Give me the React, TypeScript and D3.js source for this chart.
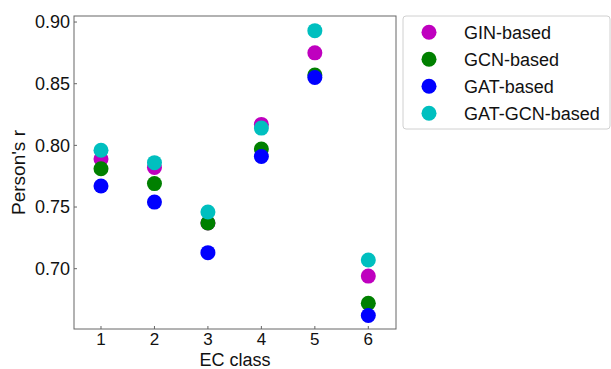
import React, { useRef, useEffect } from 'react';
import * as d3 from 'd3';

const classes = [1, 2, 3, 4, 5, 6];
const ginBased = [0.789, 0.782, 0.737, 0.817, 0.875, 0.694];
const gcnBased = [0.781, 0.769, 0.737, 0.797, 0.857, 0.672];
const gatBased = [0.767, 0.754, 0.713, 0.791, 0.855, 0.662];
const gatGcnBased = [0.796, 0.786, 0.746, 0.814, 0.893, 0.707];
const yTicks = [0.7, 0.75, 0.8, 0.85, 0.9];

const seriesNames = ['GIN-based', 'GCN-based', 'GAT-based', 'GAT-GCN-based'];
const seriesColors = ['#bf00bf', '#008000', '#0000ff', '#00bfbf'];

const App = () => {
  const chartRef = useRef<SVGSVGElement | null>(null);

  useEffect(() => {
    const svg = d3.select(chartRef.current);
    svg.selectAll('*').remove();

    const font = 'Liberation Sans, Arial, sans-serif';
    const left = 74, right = 396, top = 16, bottom = 329;

    const x = d3.scaleLinear().domain([0.495, 6.518]).range([left, right]);
    const y = d3.scaleLinear().domain([0.6511, 0.9049]).range([bottom, top]);

    const series = [ginBased, gcnBased, gatBased, gatGcnBased];

    // frame
    svg
      .append('rect')
      .attr('x', left)
      .attr('y', top)
      .attr('width', right - left)
      .attr('height', bottom - top)
      .attr('fill', 'none')
      .attr('stroke', '#666')
      .attr('stroke-width', 1);

    // y ticks
    const yg = svg.append('g');
    yTicks.forEach(t => {
      yg.append('line')
        .attr('x1', left)
        .attr('x2', left + 3)
        .attr('y1', y(t))
        .attr('y2', y(t))
        .attr('stroke', '#666');
      yg.append('text')
        .attr('x', left - 4)
        .attr('y', y(t))
        .attr('dy', '0.35em')
        .attr('text-anchor', 'end')
        .style('font-family', font)
        .style('font-size', '18px')
        .style('fill', '#111')
        .text(d3.format('.2f')(t));
    });

    // x ticks
    const xg = svg.append('g');
    classes.forEach(c => {
      xg.append('line')
        .attr('x1', x(c))
        .attr('x2', x(c))
        .attr('y1', bottom)
        .attr('y2', bottom - 3)
        .attr('stroke', '#666');
      xg.append('text')
        .attr('x', x(c))
        .attr('y', bottom + 16)
        .attr('text-anchor', 'middle')
        .style('font-family', font)
        .style('font-size', '17px')
        .style('fill', '#111')
        .text(c);
    });

    // axis labels
    svg
      .append('text')
      .attr('x', (left + right) / 2)
      .attr('y', 365.5)
      .attr('text-anchor', 'middle')
      .style('font-family', font)
      .style('font-size', '18px')
      .style('fill', '#111')
      .text('EC class');

    svg
      .append('text')
      .attr('transform', `translate(25,${(top + bottom) / 2}) rotate(-90)`)
      .attr('text-anchor', 'middle')
      .style('font-family', font)
      .style('font-size', '19px')
      .style('fill', '#111')
      .text("Person's r");

    // points
    series.forEach((vals, i) => {
      svg
        .append('g')
        .selectAll('circle')
        .data(vals)
        .enter()
        .append('circle')
        .attr('cx', (d, j) => x(classes[j]))
        .attr('cy', d => y(d))
        .attr('r', 7.5)
        .attr('fill', seriesColors[i]);
    });

    // legend
    const lg = svg.append('g');
    lg.append('rect')
      .attr('x', 403)
      .attr('y', 16)
      .attr('width', 207)
      .attr('height', 113)
      .attr('rx', 3)
      .attr('fill', 'white')
      .attr('stroke', '#d0d0d0');
    seriesNames.forEach((name, i) => {
      const cy = 32.3 + i * 27;
      lg.append('circle')
        .attr('cx', 429)
        .attr('cy', cy)
        .attr('r', 7.5)
        .attr('fill', seriesColors[i]);
      lg.append('text')
        .attr('x', 464)
        .attr('y', cy)
        .attr('dy', '0.35em')
        .style('font-family', font)
        .style('font-size', '18px')
        .style('fill', '#111')
        .text(name);
    });
  }, []);

  return (
    <svg
      ref={chartRef}
      width={611}
      height={369}
      style={{ position: 'absolute', left: 0, top: 0, background: 'white' }}
    />
  );
};

export default App;
